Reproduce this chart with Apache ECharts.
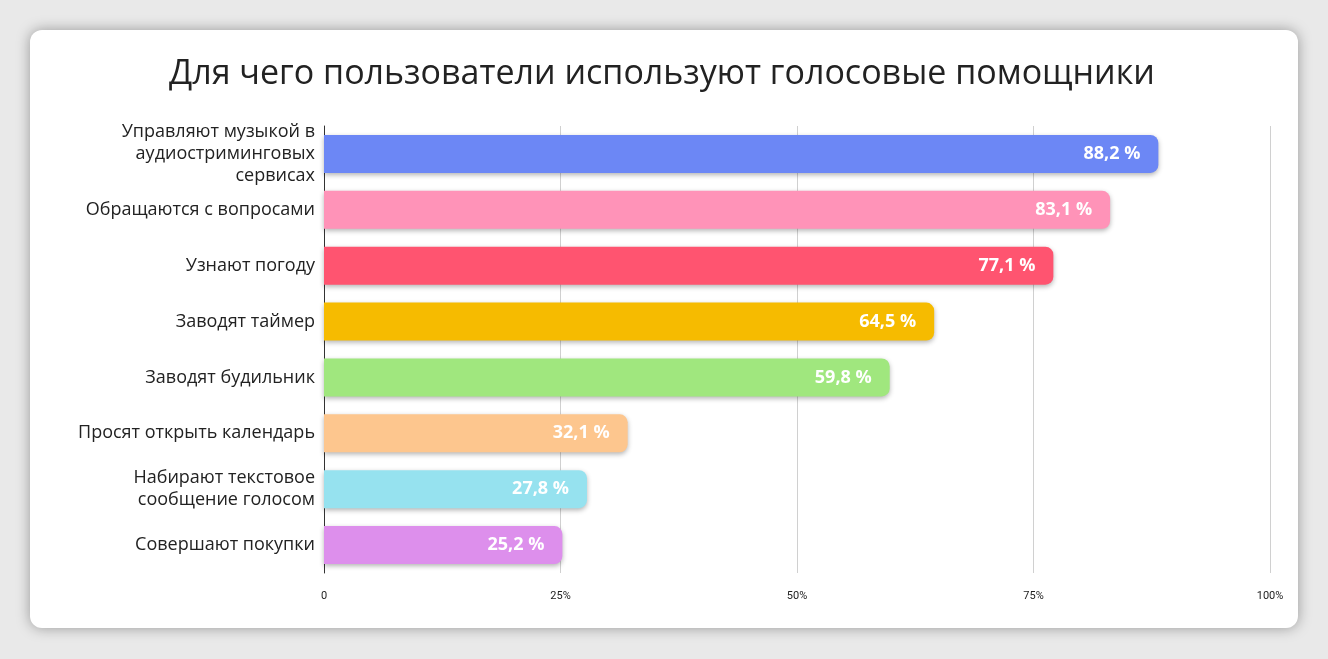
<!DOCTYPE html>
<html lang="ru">
<head>
<meta charset="UTF-8">
<title></title>
<script src="https://cdn.jsdelivr.net/npm/echarts@6/dist/echarts.min.js"></script>
<style>
  html, body { margin: 0; padding: 0; background: #e9e9e9; }
  #card { position: absolute; left: 30px; top: 30px; width: 1268px; height: 598px;
          background: #fff; border-radius: 12px; box-shadow: 0 0 14px rgba(0,0,0,0.35); }
  #chart { width: 1328px; height: 659px; position: absolute; left: 0; top: 0; }
</style>
</head>
<body>
<div id="card"></div>
<div id="chart"></div>
<script type="text/javascript">
    var categories = [
        'Управляют музыкой в\nаудиостриминговых\nсервисах',
        'Обращаются с вопросами',
        'Узнают погоду',
        'Заводят таймер',
        'Заводят будильник',
        'Просят открыть календарь',
        'Набирают текстовое\nсообщение голосом',
        'Совершают покупки'
    ];
    var values = [88.2, 83.1, 77.1, 64.5, 59.8, 32.1, 27.8, 25.2];
    var colors = ['#6c87f5', '#ff93b8', '#ff5470', '#f6bb00', '#a0e77e', '#fdc68e', '#96e2ef', '#dd8fec'];
    var tickLabels = {0: '0', 25: '25%', 50: '50%', 75: '75%', 100: '100%'};

    var myChart = echarts.init(document.getElementById('chart'));
    var option = {
        title: {
            text: 'Для чего пользователи используют голосовые помощники',
            left: 164, top: 52,
            textStyle: {fontFamily: 'Open Sans', fontSize: 34, fontWeight: 'normal', color: '#222'}
        },
        grid: {left: 324, right: 58, top: 126, bottom: 86},
        xAxis: {
            type: 'value', min: 0, max: 100, interval: 25,
            axisLine: {show: false}, axisTick: {show: false},
            splitLine: {lineStyle: {color: '#d0d0d0'}},
            axisLabel: {
                fontFamily: 'Roboto', fontSize: 11, color: '#222', margin: 18,
                formatter: function (v) { return tickLabels[v]; }
            }
        },
        yAxis: {
            type: 'category', inverse: true, data: categories,
            axisLine: {lineStyle: {color: '#333'}}, axisTick: {show: false},
            axisLabel: {fontFamily: 'Open Sans', fontSize: 18, color: '#222', lineHeight: 22, margin: 9}
        },
        series: [{
            type: 'bar', barWidth: 38,
            data: values.map(function (v, i) {
                return {value: v, itemStyle: {color: colors[i]}};
            }),
            itemStyle: {borderRadius: [0, 8, 8, 0], shadowColor: 'rgba(0,0,0,0.3)', shadowBlur: 5, shadowOffsetY: 2},
            label: {
                show: true, position: 'insideRight', distance: 18,
                fontFamily: 'Open Sans', fontSize: 18, fontWeight: 'bold', color: '#fff',
                formatter: function (p) { return String(p.value).replace('.', ',') + ' %'; }
            }
        }]
    };
    myChart.setOption(option);
</script>
</body>
</html>
